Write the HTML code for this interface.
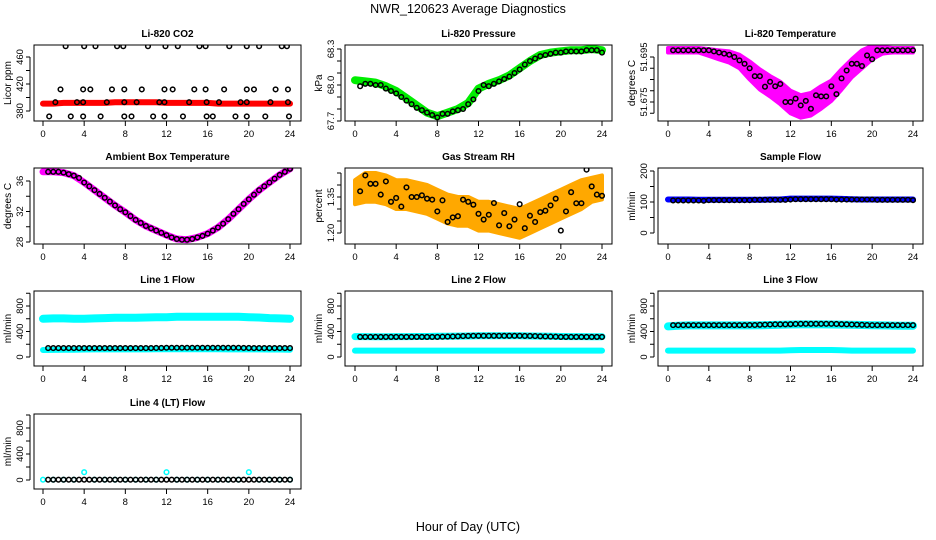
<!DOCTYPE html>
<html><head><meta charset="utf-8">
<style>
html,body{margin:0;padding:0;background:#fff;}
svg{display:block;font-family:"Liberation Sans",Arial,sans-serif;}
.t{font-size:10px;font-weight:bold;text-anchor:middle;}
.tk{font-size:9.5px;text-anchor:middle;}
</style></head>
<body>
<svg id="chart" width="936" height="540" viewBox="0 0 936 540" xmlns="http://www.w3.org/2000/svg">
<text x="468" y="13" style="font-size:12.5px;text-anchor:middle">NWR_120623  Average Diagnostics</text>
<text x="468" y="531" style="font-size:12.5px;text-anchor:middle">Hour of Day (UTC)</text>
</svg>
<script>
// ---- data ----
const halfHours = [0.5,1,1.5,2,2.5,3,3.5,4,4.5,5,5.5,6,6.5,7,7.5,8,8.5,9,9.5,10,10.5,11,11.5,12,12.5,13,13.5,14,14.5,15,15.5,16,16.5,17,17.5,18,18.5,19,19.5,20,20.5,21,21.5,22,22.5,23,23.5,24];
const hours = [0,1,2,3,4,5,6,7,8,9,10,11,12,13,14,15,16,17,18,19,20,21,22,23,24];
const xTicks = [0,4,8,12,16,20,24];

const co2Times = [2.2,4.0,5.1,7.2,7.8,10.2,11.9,13.1,15.2,15.8,18.1,19.8,21.0,23.2,23.7, 1.7,3.9,4.6,6.7,7.9,9.6,11.8,12.6,14.7,15.8,17.6,19.8,20.5,22.6,23.8, 1.2,3.3,3.9,6.2,7.9,9.1,11.3,11.8,14.2,15.9,17.1,19.2,19.8,22.1,23.8, 0.6,2.7,3.9,5.6,7.9,8.6,10.7,11.8,13.6,15.9,16.5,18.7,19.8,21.6,23.9];
const co2Values = [476,476,476,476,476,476,476,476,476,476,476,476,476,476,476, 412,412,412,412,412,412,412,412,412,412,412,412,412,412,412, 393,393,393,393,393,393,393,393,393,393,393,393,393,393,393, 372,372,372,372,372,372,372,372,372,372,372,372,372,372,372];
const co2Raw = [391,391,392,392,392,392,392,393,393,393,393,393,392,392,392,392,392,391,391,391,391,391,391,391,391];

const pressure = [67.99,68.01,68.01,68.0,68.0,67.97,67.95,67.93,67.9,67.87,67.84,67.81,67.79,67.77,67.75,67.73,67.76,67.76,67.78,67.79,67.8,67.84,67.88,67.95,68.0,67.99,68.01,68.03,68.05,68.07,68.1,68.13,68.17,68.2,68.22,68.24,68.25,68.26,68.27,68.27,68.28,68.28,68.28,68.28,68.29,68.29,68.29,68.27];
const pressureRaw = [68.04,68.03,68.02,67.99,67.95,67.89,67.83,67.77,67.74,67.77,67.80,67.85,67.97,68.01,68.04,68.08,68.14,68.20,68.25,68.27,68.28,68.29,68.29,68.30,68.29];

const licorTemp = [51.698,51.698,51.698,51.698,51.698,51.698,51.698,51.698,51.6975,51.697,51.6965,51.696,51.695,51.6935,51.692,51.690,51.6865,51.6865,51.6818,51.684,51.682,51.683,51.675,51.675,51.6765,51.6735,51.6755,51.672,51.678,51.6775,51.6775,51.682,51.6785,51.6855,51.689,51.692,51.692,51.691,51.6957,51.694,51.698,51.698,51.698,51.698,51.698,51.698,51.698,51.698];
const licorTempRaw = [51.698,51.698,51.698,51.698,51.697,51.696,51.695,51.693,51.689,51.685,51.682,51.679,51.675,51.673,51.674,51.677,51.680,51.685,51.690,51.694,51.697,51.698,51.698,51.698,51.698];
const licorTempSpread = [0.001,0.001,0.001,0.001,0.0015,0.002,0.0025,0.003,0.004,0.0045,0.0045,0.005,0.005,0.005,0.005,0.005,0.0045,0.0045,0.004,0.004,0.003,0.0015,0.001,0.001,0.001];

const ambient = [37.2,37.2,37.2,37.1,36.9,36.7,36.4,35.8,35.3,34.8,34.3,33.8,33.3,32.8,32.3,31.9,31.4,30.9,30.5,30.1,29.8,29.5,29.2,28.9,28.6,28.4,28.3,28.3,28.4,28.6,28.8,29.1,29.5,29.9,30.4,31.0,31.7,32.3,33.0,33.6,34.2,34.8,35.3,35.8,36.3,36.8,37.2,37.6];
const ambientRaw = [37.2,37.2,37.1,36.7,35.8,34.8,33.8,32.8,31.9,30.9,30.1,29.5,28.9,28.4,28.3,28.6,29.1,29.9,31.0,32.3,33.6,34.8,35.8,36.8,37.6];

const rh = [1.374,1.44,1.405,1.405,1.36,1.415,1.33,1.346,1.31,1.39,1.35,1.35,1.357,1.343,1.339,1.29,1.336,1.246,1.265,1.27,1.339,1.33,1.318,1.28,1.256,1.276,1.325,1.232,1.283,1.228,1.256,1.32,1.22,1.272,1.246,1.287,1.293,1.315,1.343,1.21,1.29,1.37,1.324,1.324,1.464,1.394,1.36,1.355];
const rhRaw = [1.37,1.39,1.39,1.38,1.36,1.36,1.35,1.34,1.32,1.30,1.29,1.29,1.27,1.27,1.26,1.25,1.24,1.26,1.28,1.30,1.32,1.34,1.36,1.38,1.39];
const rhSpread = [0.05,0.06,0.06,0.06,0.06,0.06,0.06,0.06,0.06,0.06,0.06,0.06,0.06,0.06,0.06,0.06,0.06,0.06,0.06,0.06,0.06,0.06,0.06,0.05,0.05];

const sampleFlow = [105,105,105,105,105,105,104,106,106,106,106,106,106,106,106,106,107,107,107,107,107,107,107,108,109,109,109,109,109,109,109,109,108,108,108,108,108,108,108,108,107,107,107,107,107,107,107,106];
const sampleRaw = [108,108,108,107,107,107,107,107,107,107,108,108,111,111,111,111,111,110,109,108,108,108,108,108,108];

const line1Black = [140,140,140,140,140,140,140,140,140,140,140,140,140,140,140,140,140,140,140,140,140,142,142,145,145,145,145,145,145,145,145,145,145,145,145,145,145,145,142,142,140,140,140,140,140,140,140,140];
const line1Upper = [600,605,605,600,600,605,610,615,615,615,620,625,625,630,630,630,630,630,630,630,625,620,610,605,600];
const line1Lower = [110,112,115,115,118,120,120,120,120,120,120,122,122,122,122,122,122,122,120,120,120,120,118,118,115];

const line2Black = [315,315,315,315,315,315,315,315,315,315,315,315,315,315,315,315,318,320,322,325,328,330,332,332,332,332,332,332,332,332,332,332,330,330,328,325,322,320,318,315,315,315,315,315,315,315,315,315];
const line2Upper = [320,320,318,318,320,320,322,322,325,325,328,330,332,332,332,332,332,330,328,325,322,320,320,318,318];
const line2Lower = [100,100,100,100,100,100,100,100,100,100,100,100,100,100,100,100,100,100,100,100,100,100,100,100,100];

const line3Black = [500,500,500,500,500,500,500,500,500,500,500,500,500,500,500,502,502,505,508,510,512,512,512,515,518,520,520,520,520,520,520,520,518,515,512,510,508,505,502,500,500,500,500,500,500,500,500,500];
const line3Upper = [480,490,495,495,495,495,495,495,495,498,502,505,510,512,512,512,510,508,505,502,498,495,492,490,490];
const line3Lower = [100,100,100,100,100,100,100,100,100,100,100,100,105,110,110,110,110,105,100,100,100,100,100,100,100];

const line4Black = [5,5,5,5,5,5,5,5,5,5,5,5,5,5,5,5,5,5,5,5,5,5,5,5,5,5,5,5,5,5,5,5,5,5,5,5,5,5,5,5,5,5,5,5,5,5,5,5];
const line4Cyan = [5,5,5,5,120,5,5,5,5,5,5,5,120,5,5,5,5,5,5,5,120,5,5,5,5];

// ---- layout ----
const cols = [{l:34,r:301,x0:43,x24:290},{l:345,r:612,x0:355,x24:602},{l:658,r:923,x0:668,x24:913}];
const rows = [{t:45,b:121},{t:168,b:244},{t:291,b:366},{t:414,b:489}];
const svg = document.getElementById('chart');
const NS = 'http://www.w3.org/2000/svg';
function el(tag, attrs, parent){ const e=document.createElementNS(NS,tag); for(const k in attrs) e.setAttribute(k,attrs[k]); (parent||svg).appendChild(e); return e; }

function panel(name, title, ylab, row, col, v1, y1, v2, y2, ticks, labels, fmt){
  const c=cols[col], r=rows[row];
  const g=el('g',{});
  
  
  const xs=h=>c.x0+(c.x24-c.x0)*h/24;
  const ys=v=>y1+(v-v1)*(y2-y1)/(v2-v1);
  const tt=el('text',{x:(c.l+c.r)/2,y:r.t-8,class:'t'},g); tt.textContent=title;
  
  
  const yl=el('text',{x:0,y:0,transform:`translate(${c.l-23},${(r.t+r.b)/2}) rotate(-90)`,style:'font-size:10px;text-anchor:middle'},g); yl.textContent=ylab;
  
  
  const xa=el('g',{},g);
  
  
  el('line',{x1:xs(0),x2:xs(24),y1:r.b,y2:r.b,stroke:'#000'},xa);
  xTicks.forEach(h=>{ el('line',{x1:xs(h),x2:xs(h),y1:r.b,y2:r.b+5,stroke:'#000'},xa);
    const t=el('text',{x:xs(h),y:r.b+16,class:'tk'},xa); t.textContent=h; });
  const ya=el('g',{},g);
  
  
  el('line',{x1:c.l-4,x2:c.l-4,y1:ys(ticks[0]),y2:ys(ticks[ticks.length-1]),stroke:'#000'},ya);
  ticks.forEach(v=>el('line',{x1:c.l-8,x2:c.l-4,y1:ys(v),y2:ys(v),stroke:'#000'},ya));
  labels.forEach(v=>{ const t=el('text',{x:0,y:0,transform:`translate(${c.l-11},${ys(v)}) rotate(-90)`,class:'tk'},ya); t.textContent=fmt?fmt(v):v; });
  const clip='clip-'+name;
  const cp=el('clipPath',{id:clip},g); el('rect',{x:c.l,y:r.t,width:c.r-c.l,height:r.b-r.t},cp);
  const plot=el('g',{'clip-path':`url(#${clip})`},g);
  el('rect',{x:c.l,y:r.t,width:c.r-c.l,height:r.b-r.t,fill:'none',stroke:'#000'},g);
  return {g:plot,xs,ys};
}
function rawLine(p,times,vals,color,w,name){
  const d=times.map((h,i)=>(i?'L':'M')+p.xs(h).toFixed(1)+','+p.ys(vals[i]).toFixed(1)).join('');
  const e=el('path',{d,fill:'none',stroke:color,'stroke-width':w,'stroke-linejoin':'round','stroke-linecap':'round'},p.g);
  
  
}
function band(p,times,vals,spread,color,name){
  const up=times.map((h,i)=>p.xs(h).toFixed(1)+','+p.ys(vals[i]+spread[i]).toFixed(1));
  const dn=times.map((h,i)=>p.xs(h).toFixed(1)+','+p.ys(vals[i]-spread[i]).toFixed(1)).reverse();
  const e=el('polygon',{points:up.concat(dn).join(' '),fill:color,stroke:color,'stroke-width':4,'stroke-linejoin':'round'},p.g);
  
  
}
function pts(p,times,vals,color,name){
  const gg=el('g',{},p.g);
  
  
  times.forEach((h,i)=>{ const c=el('circle',{cx:p.xs(h),cy:p.ys(vals[i]),r:2.3,fill:'none',stroke:color||'#000','stroke-width':1.5},gg);
    
     });
}
const rng=(a,b,s)=>{const o=[];for(let v=a;v<=b+1e-9;v+=s)o.push(+v.toFixed(4));return o;};

let p;
p=panel('co2','Li-820 CO2','Licor ppm',0,0,380,111,460,57,rng(380,460,20),[380,420,460]);
rawLine(p,hours,co2Raw,'#ff0000',6,'co2-raw-series'); pts(p,co2Times,co2Values,'#000','co2-average-series');

p=panel('pressure','Li-820 Pressure','kPa',0,1,68.3,49,68.0,85,rng(67.7,68.3,0.1),[67.7,68.0,68.3],v=>v.toFixed(1));
rawLine(p,hours,pressureRaw,'#00ee00',8,'pressure-raw-series'); pts(p,halfHours,pressure,'#000','pressure-average-series');

p=panel('licor-temp','Li-820 Temperature','degrees C',0,2,51.695,57,51.675,102,rng(51.67,51.695,0.005),[51.675,51.695],v=>v.toFixed(3));
band(p,hours,licorTempRaw,licorTempSpread,'#ff00ff','licor-temp-raw-series'); pts(p,halfHours,licorTemp,'#000','licor-temp-average-series');

p=panel('ambient-temp','Ambient Box Temperature','degrees C',1,0,36,181,28,242,rng(28,36,2),[28,32,36]);
rawLine(p,hours,ambientRaw,'#ff00ff',7,'ambient-temp-raw-series'); pts(p,halfHours,ambient,'#000','ambient-temp-average-series');

p=panel('rh','Gas Stream RH','percent',1,1,1.35,197,1.20,233,rng(1.20,1.45,0.05),[1.20,1.35],v=>v.toFixed(2));
band(p,hours,rhRaw,rhSpread,'#ffa800','rh-raw-series'); pts(p,halfHours,rh,'#000','rh-average-series');

p=panel('sample-flow','Sample Flow','ml/min',1,2,0,233,200,171,rng(0,200,50),[0,100,200]);
rawLine(p,hours,sampleRaw,'#0000ff',6,'sample-flow-raw-series'); pts(p,halfHours,sampleFlow,'#000','sample-flow-average-series');

p=panel('line1','Line 1 Flow','ml/min',2,0,0,357,800,306,rng(0,1000,200),[0,400,800]);
rawLine(p,hours,line1Upper,'#00ffff',8,'line1-raw-upper'); rawLine(p,hours,line1Lower,'#00ffff',6,'line1-raw-lower'); pts(p,halfHours,line1Black,'#000','line1-average-series');

p=panel('line2','Line 2 Flow','ml/min',2,1,0,357,800,306,rng(0,1000,200),[0,400,800]);
rawLine(p,hours,line2Upper,'#00ffff',7,'line2-raw-upper'); rawLine(p,hours,line2Lower,'#00ffff',6,'line2-raw-lower'); pts(p,halfHours,line2Black,'#000','line2-average-series');

p=panel('line3','Line 3 Flow','ml/min',2,2,0,357,800,306,rng(0,1000,200),[0,400,800]);
rawLine(p,hours,line3Upper,'#00ffff',8,'line3-raw-upper'); rawLine(p,hours,line3Lower,'#00ffff',6,'line3-raw-lower'); pts(p,halfHours,line3Black,'#000','line3-average-series');

p=panel('line4','Line 4 (LT) Flow','ml/min',3,0,0,480,800,428,rng(0,1000,200),[0,400,800]);
pts(p,hours,line4Cyan,'#00ffff','line4-raw-series'); pts(p,halfHours,line4Black,'#000','line4-average-series');
</script>
</body></html>
